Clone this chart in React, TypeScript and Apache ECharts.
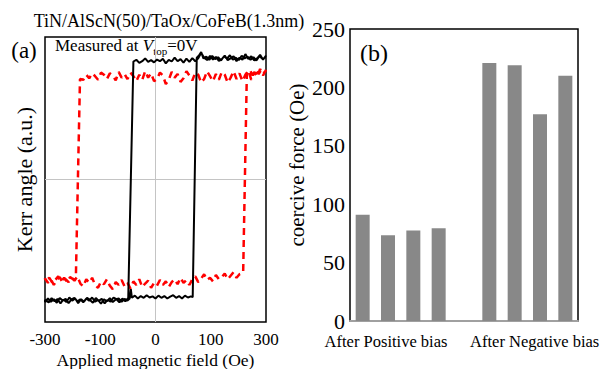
import React, { useEffect, useRef } from "react";
import * as echarts from "echarts";

// ---------- Panel (a): Kerr hysteresis loops ----------
const xTickLabels = ["-300", "-100", "0", "100", "300"];
const xMin = -300;
const xMax = 300;
const xStep = 150;

// Black loop (small coercivity), traced in field-sweep order
const blackLoop: [number, number][] = [
  [300, 0.87], [292, 0.84], [284, 0.875], [276, 0.85], [268, 0.835], [260, 0.865], [252, 0.845], [244, 0.88],
  [236, 0.84], [228, 0.855], [220, 0.83], [212, 0.865], [204, 0.85], [196, 0.838], [188, 0.87], [180, 0.845],
  [172, 0.832], [164, 0.86], [156, 0.842], [148, 0.868], [140, 0.838], [132, 0.855], [124, 0.89], [116, 0.85],
  [108, 0.83], [100, 0.852], [92, 0.825], [84, 0.848], [76, 0.82], [68, 0.845], [60, 0.83], [52, 0.855],
  [44, 0.828], [36, 0.84], [28, 0.815], [20, 0.848], [12, 0.83], [4, 0.842], [-4, 0.822], [-12, 0.838],
  [-20, 0.826], [-28, 0.85], [-36, 0.83], [-44, 0.818], [-52, 0.84], [-60, 0.828],
  [-74, -0.83], [-82, -0.855], [-90, -0.835], [-98, -0.862], [-106, -0.84], [-114, -0.828], [-122, -0.858],
  [-130, -0.845], [-138, -0.87], [-146, -0.838], [-154, -0.852], [-162, -0.832], [-170, -0.865], [-178, -0.845],
  [-186, -0.83], [-194, -0.858], [-202, -0.84], [-210, -0.868], [-218, -0.835], [-226, -0.85], [-234, -0.828],
  [-242, -0.86], [-250, -0.842], [-258, -0.87], [-266, -0.838], [-274, -0.855], [-282, -0.832], [-290, -0.862],
  [-300, -0.845],
  [-300, -0.86], [-292, -0.835], [-284, -0.858], [-276, -0.84], [-268, -0.865], [-260, -0.832], [-252, -0.85],
  [-244, -0.838], [-236, -0.868], [-228, -0.842], [-220, -0.83], [-212, -0.855], [-204, -0.84], [-196, -0.862],
  [-188, -0.835], [-180, -0.85], [-172, -0.828], [-164, -0.858], [-156, -0.845], [-148, -0.872], [-140, -0.84],
  [-132, -0.855], [-124, -0.832], [-116, -0.86], [-108, -0.842], [-100, -0.835], [-92, -0.858], [-84, -0.838],
  [-76, -0.85], [-70, -0.835], [-67, -0.77], [-64, -0.83], [-56, -0.815], [-48, -0.835], [-40, -0.818],
  [-32, -0.83], [-24, -0.812], [-16, -0.828], [-8, -0.82], [0, -0.835], [8, -0.815], [16, -0.83], [24, -0.818],
  [32, -0.835], [40, -0.822], [48, -0.812], [56, -0.83], [64, -0.818], [72, -0.835], [80, -0.815], [88, -0.828],
  [96, -0.82], [101, -0.826],
  [112, 0.855], [118, 0.87], [124, 0.895], [130, 0.85], [138, 0.862], [146, 0.84], [154, 0.868], [162, 0.845],
  [170, 0.858], [178, 0.835], [186, 0.865], [194, 0.848], [202, 0.872], [210, 0.84], [218, 0.855], [226, 0.838],
  [234, 0.868], [242, 0.85], [250, 0.862], [258, 0.84], [266, 0.858], [274, 0.835], [282, 0.866], [290, 0.848],
  [300, 0.858],
];

// Red dashed loop (large coercivity), traced in field-sweep order
const redLoop: [number, number][] = [
  [300, 0.77], [292, 0.73], [284, 0.775], [276, 0.72], [268, 0.755], [260, 0.7], [252, 0.765], [244, 0.735],
  [236, 0.69], [228, 0.745], [220, 0.705], [212, 0.76], [204, 0.715], [196, 0.68], [188, 0.735], [180, 0.755],
  [172, 0.7], [164, 0.74], [156, 0.69], [148, 0.725], [140, 0.76], [132, 0.705], [124, 0.68], [116, 0.735],
  [108, 0.75], [100, 0.695], [92, 0.73], [84, 0.76], [76, 0.71], [68, 0.685], [60, 0.74], [52, 0.715],
  [44, 0.755], [36, 0.7], [28, 0.67], [20, 0.73], [12, 0.75], [4, 0.705], [-4, 0.69], [-12, 0.745],
  [-20, 0.715], [-28, 0.76], [-36, 0.7], [-44, 0.735], [-52, 0.69], [-60, 0.725], [-68, 0.75], [-76, 0.705],
  [-84, 0.74], [-92, 0.715], [-100, 0.755], [-108, 0.695], [-116, 0.73], [-124, 0.745], [-132, 0.705],
  [-140, 0.735], [-148, 0.75], [-156, 0.7], [-164, 0.725], [-172, 0.745], [-180, 0.71], [-188, 0.735],
  [-196, 0.7], [-205, 0.705],
  [-216, -0.665], [-224, -0.7], [-232, -0.685], [-240, -0.72], [-248, -0.69], [-256, -0.715], [-264, -0.68],
  [-272, -0.705], [-280, -0.725], [-288, -0.69], [-300, -0.71],
  [-300, -0.695], [-292, -0.725], [-284, -0.7], [-276, -0.74], [-268, -0.705], [-260, -0.685], [-252, -0.725],
  [-244, -0.7], [-236, -0.72], [-228, -0.69], [-220, -0.71], [-212, -0.68], [-204, -0.73], [-196, -0.75],
  [-188, -0.7], [-180, -0.725], [-172, -0.69], [-164, -0.74], [-156, -0.76], [-148, -0.715], [-140, -0.735],
  [-132, -0.7], [-124, -0.745], [-116, -0.77], [-108, -0.72], [-100, -0.74], [-92, -0.705], [-84, -0.75],
  [-76, -0.725], [-68, -0.765], [-60, -0.715], [-52, -0.74], [-44, -0.7], [-36, -0.755], [-28, -0.73],
  [-20, -0.71], [-12, -0.76], [-4, -0.725], [4, -0.745], [12, -0.705], [20, -0.74], [28, -0.715], [36, -0.755],
  [44, -0.72], [52, -0.7], [60, -0.735], [68, -0.69], [76, -0.725], [84, -0.705], [92, -0.74], [100, -0.7],
  [108, -0.68], [116, -0.72], [124, -0.695], [132, -0.665], [140, -0.705], [148, -0.69], [156, -0.715],
  [164, -0.67], [172, -0.7], [180, -0.685], [188, -0.66], [196, -0.7], [204, -0.675], [212, -0.65], [220, -0.69],
  [228, -0.665], [238, -0.655],
  [248, 0.745], [256, 0.77], [264, 0.73], [272, 0.765], [280, 0.74], [288, 0.775], [296, 0.75], [300, 0.765],
];

// ---------- Panel (b): coercive force bars ----------
const barCategories = ["pos1", "pos2", "pos3", "pos4", "gap", "neg1", "neg2", "neg3", "neg4"];
const coerciveForce: (number | null)[] = [90.9, 73.4, 77.4, 79.4, null, 220.9, 218.9, 177.1, 210.0];
const groupLabels = ["After Positive bias", "After Negative bias"];
const yTicksB = { min: 0, max: 250, interval: 50 };

const FONT = "Liberation Serif";

export default function App() {
  const ref = useRef<HTMLDivElement>(null);

  useEffect(() => {
    if (!ref.current) return;
    const chart = echarts.init(ref.current, undefined, { renderer: "svg" });
    const transparent = "rgba(0,0,0,0)";
    const option: any = {
      animation: false,
      textStyle: { fontFamily: FONT, color: "#000" },
      grid: [
        {
          left: 45, top: 37, width: 221, height: 285, show: true, borderColor: "#000", borderWidth: 1.5,
          backgroundColor: transparent, containLabel: false, outerBoundsMode: "none",
        },
        {
          left: 350, top: 29, width: 228, height: 292, show: true, borderColor: "#000", borderWidth: 1.5,
          backgroundColor: transparent, containLabel: false, outerBoundsMode: "none",
        },
      ],
      xAxis: [
        {
          type: "value",
          gridIndex: 0,
          min: xMin,
          max: xMax,
          interval: xStep,
          axisLine: { show: false },
          axisTick: { show: false },
          splitLine: {
            show: true,
            lineStyle: { color: [transparent, transparent, "#c4c4c4", transparent, transparent], width: 1 },
          },
          axisLabel: {
            fontFamily: FONT,
            fontSize: 17,
            color: "#000",
            margin: 9,
            formatter: (v: number) => xTickLabels[Math.round((v - xMin) / xStep)] ?? "",
          },
        },
        {
          type: "category",
          gridIndex: 1,
          data: barCategories,
          axisLine: { show: true, lineStyle: { color: "#a0a0a0", width: 2 } },
          axisTick: { show: false },
          axisLabel: {
            interval: 0,
            margin: 12,
            fontFamily: FONT,
            fontSize: 16.5,
            color: "#000",
            formatter: (_v: string, idx: number) =>
              idx === 1 ? `{p|${groupLabels[0]}}` : idx === 6 ? `{n|${groupLabels[1]}}` : "",
            rich: {
              p: { fontFamily: FONT, fontSize: 16.5, color: "#000", padding: [0, 4, 0, 0] },
              n: { fontFamily: FONT, fontSize: 16.5, color: "#000", padding: [0, 0, 0, 40] },
            },
          },
        },
      ],
      yAxis: [
        {
          type: "value",
          gridIndex: 0,
          min: -1,
          max: 1,
          interval: 1,
          axisLine: { show: false },
          axisTick: { show: false },
          axisLabel: { show: false },
          splitLine: { show: true, lineStyle: { color: [transparent, "#c4c4c4", transparent], width: 1 } },
          name: "Kerr angle (a.u.)",
          nameLocation: "middle",
          nameGap: 10,
          nameTextStyle: { fontFamily: FONT, fontSize: 22, color: "#000" },
        },
        {
          type: "value",
          gridIndex: 1,
          min: yTicksB.min,
          max: yTicksB.max,
          interval: yTicksB.interval,
          axisLine: { show: false },
          axisTick: { show: false },
          splitLine: { show: false },
          axisLabel: { fontFamily: FONT, fontSize: 22, color: "#000", margin: 5 },
        },
      ],
      series: [
        {
          type: "line",
          xAxisIndex: 0,
          yAxisIndex: 0,
          data: redLoop,
          showSymbol: false,
          symbol: "none",
          z: 2,
          lineStyle: { color: "#ff0000", width: 2.5, type: [7, 5] },
        },
        {
          type: "line",
          xAxisIndex: 0,
          yAxisIndex: 0,
          data: blackLoop,
          showSymbol: false,
          symbol: "none",
          z: 3,
          lineStyle: { color: "#000", width: 2 },
        },
        {
          type: "bar",
          xAxisIndex: 1,
          yAxisIndex: 1,
          data: coerciveForce,
          barWidth: 14,
          itemStyle: { color: "#888888" },
        },
      ],
      graphic: [
        {
          type: "text",
          x: 169,
          y: 21,
          style: { text: "TiN/AlScN(50)/TaOx/CoFeB(1.3nm)", font: `18px "${FONT}"`, fill: "#000", align: "center", verticalAlign: "middle" },
        },
        {
          type: "text",
          x: 155.5,
          y: 360,
          style: { text: "Applied magnetic field (Oe)", font: `17.5px "${FONT}"`, fill: "#000", align: "center", verticalAlign: "middle" },
        },
        {
          type: "text",
          x: 24,
          y: 50,
          style: { text: "(a)", font: `23px "${FONT}"`, fill: "#000", align: "center", verticalAlign: "middle" },
        },
        {
          type: "text",
          x: 374,
          y: 53,
          style: { text: "(b)", font: `24px "${FONT}"`, fill: "#000", align: "center", verticalAlign: "middle" },
        },
        {
          type: "text",
          x: 297,
          y: 165,
          rotation: Math.PI / 2,
          style: { text: "coercive force (Oe)", font: `21px "${FONT}"`, fill: "#000", align: "center", verticalAlign: "middle" },
        },
        {
          type: "text",
          x: 55,
          y: 45,
          style: {
            text: "{n|Measured at }{i|V}{s|top}{n|=0V}",
            fill: "#000",
            align: "left",
            verticalAlign: "middle",
            rich: {
              n: { fontFamily: FONT, fontSize: 17, fill: "#000", lineHeight: 22 },
              i: { fontFamily: FONT, fontSize: 17, fontStyle: "italic", fill: "#000", lineHeight: 22 },
              s: { fontFamily: FONT, fontSize: 11, fill: "#000", lineHeight: 22, verticalAlign: "bottom" },
            },
          },
        },
      ],
    };
    chart.setOption(option);
    return () => chart.dispose();
  }, []);

  return (
    <div
      ref={ref}
      style={{ position: "absolute", left: 0, top: 0, width: 601, height: 369, background: "#fff" }}
    />
  );
}
